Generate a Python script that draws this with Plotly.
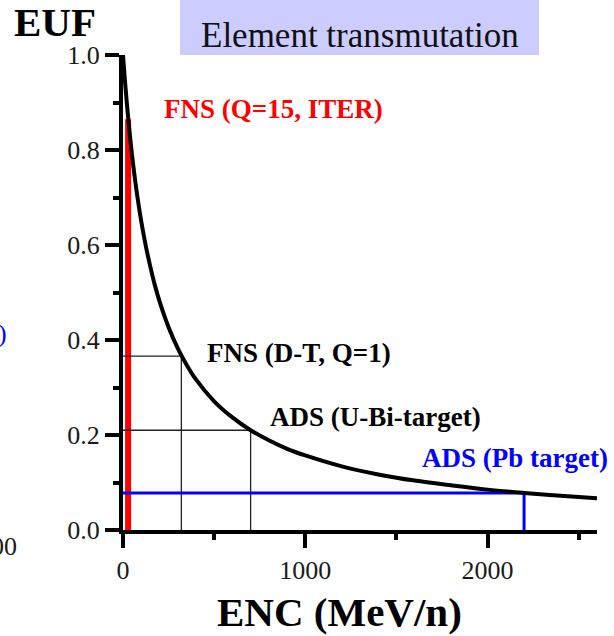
import plotly.graph_objects as go

# ---- data ----
enc_curve = [0, 10, 20, 30, 45, 60, 80, 100, 125, 150, 175, 200, 250, 300, 350, 400,
             500, 600, 700, 800, 900, 1000, 1200, 1400, 1600, 1800, 2000, 2200, 2400, 2600]
euf_curve = [1.0, 0.949, 0.903, 0.861, 0.805, 0.756, 0.699, 0.650, 0.598, 0.554, 0.515,
             0.482, 0.427, 0.383, 0.347, 0.317, 0.271, 0.237, 0.210, 0.189, 0.171, 0.157,
             0.134, 0.117, 0.104, 0.094, 0.085, 0.078, 0.072, 0.067]

fns_iter_enc = 28
fns_iter_euf = 0.865
fns_dt_enc, fns_dt_euf = 320, 0.366
ads_ubi_enc, ads_ubi_euf = 700, 0.210
ads_pb_enc, ads_pb_euf = 2200, 0.078

x_ticks = [0, 1000, 2000]
y_ticks = [0.0, 0.2, 0.4, 0.6, 0.8, 1.0]

SERIF = "Liberation Serif, Times New Roman, serif"

fig = go.Figure()

# red ITER bar
fig.add_trace(go.Scatter(x=[fns_iter_enc, fns_iter_enc], y=[0, fns_iter_euf], mode="lines",
                         line=dict(color="#ff0000", width=6), hoverinfo="skip"))
# thin black guide lines
for ex, ey in [(fns_dt_enc, fns_dt_euf), (ads_ubi_enc, ads_ubi_euf)]:
    fig.add_trace(go.Scatter(x=[0, ex, ex], y=[ey, ey, 0], mode="lines",
                             line=dict(color="#222222", width=1.3), hoverinfo="skip"))
# blue Pb target guide
fig.add_trace(go.Scatter(x=[0, ads_pb_enc, ads_pb_enc], y=[ads_pb_euf, ads_pb_euf, 0], mode="lines",
                         line=dict(color="#0000ff", width=3), hoverinfo="skip"))
# main curve
fig.add_trace(go.Scatter(x=enc_curve, y=euf_curve, mode="lines", line_shape="spline",
                         line=dict(color="#000000", width=4), hoverinfo="skip"))

W, H = 614, 636
L, R, T, B = 123, 17, 55, 106
pw, ph = W - L - R, H - T - B

def px(x):
    return (x - L) / pw

def py(y):
    return (H - B - y) / ph

fig.update_layout(
    width=W, height=H,
    margin=dict(l=L, r=R, t=T, b=B, pad=0),
    paper_bgcolor="white", plot_bgcolor="white",
    showlegend=False,
    xaxis=dict(range=[0, 2600], tickvals=x_ticks, ticktext=[str(v) for v in x_ticks],
               showgrid=False, zeroline=False, showline=True, linecolor="black", linewidth=4,
               ticks="outside", ticklen=14, tickwidth=4, tickcolor="black",
               tickfont=dict(family=SERIF, size=26, color="#1a1a1a"),
               minor=dict(dtick=500, tick0=0, ticks="outside", ticklen=6, tickwidth=4,
                          tickcolor="black", showgrid=False)),
    yaxis=dict(range=[0, 1.0], tickvals=y_ticks, ticktext=[f"{v:.1f}" for v in y_ticks],
               showgrid=False, zeroline=False, showline=True, linecolor="black", linewidth=4,
               ticks="outside", ticklen=14, tickwidth=4, tickcolor="black",
               tickfont=dict(family=SERIF, size=26, color="#1a1a1a"),
               minor=dict(dtick=0.1, tick0=0, ticks="outside", ticklen=6, tickwidth=4,
                          tickcolor="black", showgrid=False)),
)

# title box
fig.add_shape(type="rect", xref="paper", yref="paper",
              x0=px(180), x1=px(539), y0=py(55), y1=py(0),
              fillcolor="#ccccff", line=dict(width=0), layer="below")

ann = [
    dict(text="Element transmutation", x=px(360), y=py(36), xref="paper", yref="paper",
         xanchor="center", yanchor="middle", font=dict(family=SERIF, size=35, color="#111")),
    dict(text="<b>EUF</b>", x=px(55), y=py(22), xref="paper", yref="paper",
         xanchor="center", yanchor="middle", font=dict(family=SERIF, size=41, color="#000")),
    dict(text="<b>ENC (MeV/n)</b>", x=px(339), y=py(612), xref="paper", yref="paper",
         xanchor="center", yanchor="middle", font=dict(family=SERIF, size=41, color="#000")),
    dict(text="<b>FNS (Q=15, ITER)</b>", x=px(162), y=py(109), xref="paper", yref="paper",
         xanchor="left", yanchor="middle", font=dict(family=SERIF, size=27, color="#ff0000")),
    dict(text="<b>FNS (D-T, Q=1)</b>", x=px(205), y=py(353), xref="paper", yref="paper",
         xanchor="left", yanchor="middle", font=dict(family=SERIF, size=27, color="#000")),
    dict(text="<b>ADS (U-Bi-target)</b>", x=px(268), y=py(417), xref="paper", yref="paper",
         xanchor="left", yanchor="middle", font=dict(family=SERIF, size=27, color="#000")),
    dict(text="<b>ADS (Pb target)</b>", x=px(420), y=py(458), xref="paper", yref="paper",
         xanchor="left", yanchor="middle", font=dict(family=SERIF, size=27, color="#0000ff")),
    dict(text=")", x=px(9), y=py(333), xref="paper", yref="paper",
         xanchor="right", yanchor="middle", font=dict(family=SERIF, size=26, color="#0000ff")),
    dict(text="1000", x=px(19), y=py(546), xref="paper", yref="paper",
         xanchor="right", yanchor="middle", font=dict(family=SERIF, size=26, color="#1a1a1a")),
]
for a in ann:
    fig.add_annotation(showarrow=False, **a)

fig.write_html("out.html")
